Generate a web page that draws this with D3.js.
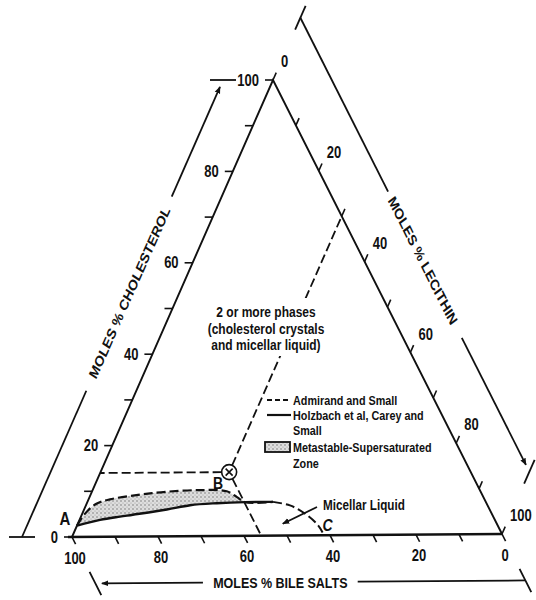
<!DOCTYPE html>
<html>
<head>
<meta charset="utf-8">
<script src="https://cdn.jsdelivr.net/npm/d3@7"></script>
<style>
  body { margin: 0; background: #fff; }
  text { font-family: "Liberation Sans", Arial, sans-serif; fill: #111; }
</style>
</head>
<body>
<div id="chart"></div>
<script>
// all values are moles %, points are [cholesterol, lecithin]; bile salts = 100 - both
const majorTicks = [0, 20, 40, 60, 80, 100];
const minorTicks = [0, 10, 20, 30, 40, 50, 60, 70, 80, 90, 100];
const admirandLine = [[2.5, 0], [5, 0.6], [7.2, 2.2], [8.2, 5], [9.2, 11.5], [9.8, 17.5], [10.1, 25], [9.8, 31.4], [8.5, 34.4], [7.4, 36.8], [7.4, 43.3]];
const admirandToC = [[7.4, 43.3], [6.6, 47.6], [4.8, 51.9], [2.2, 56.2], [0.6, 58]];
const holzbachLine = [[2.5, 0], [3.7, 4.8], [4.4, 9.1], [4.8, 11.9], [5.9, 19.3], [6.8, 24.3], [7.2, 30.3], [7.4, 36.8], [7.4, 43.3]];
const metastableEnd = 36.8; // lecithin % where the two limits meet
const pointX = [14, 30];
const micellarTarget = [2.6, 47.8];
const phaseText = ["2 or more phases", "(cholesterol crystals", "and micellar liquid)"];

const width = 536, height = 600;
const SY = 1.23; // the scan is stretched vertically, text too

const svg = d3.select("#chart").append("svg")
    .attr("width", width)
    .attr("height", height);

const defs = svg.append("defs");
const pat = defs.append("pattern")
    .attr("id", "stipple")
    .attr("patternUnits", "userSpaceOnUse")
    .attr("width", 4).attr("height", 4);
pat.append("rect").attr("width", 4).attr("height", 4).attr("fill", "#dedede");
pat.append("circle").attr("cx", 1).attr("cy", 1).attr("r", 0.8).attr("fill", "#7a7a7a");
pat.append("circle").attr("cx", 3).attr("cy", 3).attr("r", 0.6).attr("fill", "#9a9a9a");

defs.append("marker")
    .attr("id", "arrow")
    .attr("viewBox", "0 0 10 10")
    .attr("refX", 9).attr("refY", 5)
    .attr("markerWidth", 4).attr("markerHeight", 4)
    .attr("orient", "auto")
    .append("path").attr("d", "M0,1L10,5L0,9Z").attr("fill", "#111");

// triangle corners: bile salts (left), cholesterol (top), lecithin (right)
const vB = [72, 537], vC = [273, 80], vL = [502, 534];

const cholScale = d3.scaleLinear().domain([0, 100]).range([vB, vC]);
const lecScale = d3.scaleLinear().domain([0, 100]).range([vC, vL]);
const bileScale = d3.scaleLinear().domain([0, 100]).range([vL, vB]);

function tern(d) {
    const c = d[0], l = d[1], b = 100 - c - l;
    return [(b * vB[0] + c * vC[0] + l * vL[0]) / 100,
            (b * vB[1] + c * vC[1] + l * vL[1]) / 100];
}

function unit(a, b) {
    const dx = b[0] - a[0], dy = b[1] - a[1], n = Math.hypot(dx, dy);
    return [dx / n, dy / n];
}
const isoL = unit(vB, vC); // lines of equal lecithin
const isoB = unit(vC, vL); // lines of equal bile salts

function txt(g, x, y, str, size, anchor, angle, weight) {
    return g.append("text")
        .attr("transform", `translate(${x},${y}) scale(1,${SY}) rotate(${angle || 0})`)
        .attr("dy", "0.35em")
        .attr("text-anchor", anchor || "middle")
        .attr("font-size", size)
        .attr("font-weight", weight || "bold")
        .text(str);
}

const g = svg.append("g");
const line = d3.line().curve(d3.curveCatmullRom);

// shaded metastable zone
const upper = admirandLine.filter(d => d[1] <= metastableEnd);
const lower = holzbachLine.filter(d => d[1] <= metastableEnd).reverse();
g.append("path")
    .attr("d", line(upper.map(tern)) + "L" + line(lower.map(tern)).slice(1) + "Z")
    .attr("fill", "url(#stipple)")
    .attr("stroke", "none");

// triangle
g.append("path")
    .attr("d", d3.line()([vB, vC, vL]))
    .attr("fill", "none").attr("stroke", "#111").attr("stroke-width", 1.9);
g.append("line")
    .attr("x1", vB[0] - 4).attr("y1", vB[1]).attr("x2", vL[0]).attr("y2", vL[1])
    .attr("stroke", "#111").attr("stroke-width", 2.6);

// ticks
minorTicks.forEach(v => {
    const p = cholScale(v);
    g.append("line").attr("x1", p[0]).attr("y1", p[1]).attr("x2", p[0] - 8).attr("y2", p[1])
        .attr("stroke", "#111").attr("stroke-width", 1.6);
    const q = lecScale(v);
    g.append("line").attr("x1", q[0]).attr("y1", q[1])
        .attr("x2", q[0] + isoL[0] * 8).attr("y2", q[1] + isoL[1] * 8)
        .attr("stroke", "#111").attr("stroke-width", 1.6);
    const r = bileScale(v);
    g.append("line").attr("x1", r[0]).attr("y1", r[1])
        .attr("x2", r[0] + isoB[0] * 8).attr("y2", r[1] + isoB[1] * 8)
        .attr("stroke", "#111").attr("stroke-width", 1.6);
});
majorTicks.forEach(v => {
    const p = cholScale(v);
    txt(g, p[0] - 14, p[1], v, 13, "end");
    const q = lecScale(v);
    txt(g, q[0] + isoL[0] * 20, q[1] + isoL[1] * 20, v, 13, "start");
    const r = bileScale(v);
    txt(g, r[0] + 3, r[1] + 21, v, 13);
});

// outer axis lines with arrows and end caps
function outerAxis(a, b, gap, capDir, title, angle, tc) {
    const at = t => [a[0] + (b[0] - a[0]) * t, a[1] + (b[1] - a[1]) * t];
    g.append("path").attr("d", d3.line()([at(0), at(gap[0])]))
        .attr("stroke", "#111").attr("stroke-width", 1.8).attr("fill", "none");
    g.append("path").attr("d", d3.line()([at(gap[1]), at(0.985)]))
        .attr("stroke", "#111").attr("stroke-width", 1.8).attr("fill", "none")
        .attr("marker-end", "url(#arrow)");
    [a, b].forEach(p => {
        g.append("line")
            .attr("x1", p[0] - capDir[0] * 13).attr("y1", p[1] - capDir[1] * 13)
            .attr("x2", p[0] + capDir[0] * 13).attr("y2", p[1] + capDir[1] * 13)
            .attr("stroke", "#111").attr("stroke-width", 1.8);
    });
    const c = at(tc);
    txt(g, c[0], c[1], title, 12.5, "middle", angle);
}
outerAxis([vB[0] - 50, vB[1]], [vC[0] - 50, vC[1]], [0.32, 0.745], [1, 0],
    "MOLES % CHOLESTEROL", -61.6, 0.535);
outerAxis([vC[0] + isoL[0] * 68, vC[1] + isoL[1] * 68], [vL[0] + isoL[0] * 68, vL[1] + isoL[1] * 68],
    [0.383, 0.705], isoL, "MOLES % LECITHIN", 58.2, 0.535);
outerAxis([vL[0] + isoB[0] * 52, vL[1] + isoB[1] * 52], [vB[0] + isoB[0] * 52, vB[1] + isoB[1] * 52],
    [0.39, 0.75], isoB, "MOLES % BILE SALTS", 0, 0.57);

// limits
g.append("path").attr("d", line(holzbachLine.map(tern)))
    .attr("fill", "none").attr("stroke", "#111").attr("stroke-width", 2.4);
g.append("path").attr("d", line(admirandLine.map(tern)))
    .attr("fill", "none").attr("stroke", "#111").attr("stroke-width", 2.2)
    .attr("stroke-dasharray", "9,4");
g.append("path").attr("d", line(admirandToC.map(tern)))
    .attr("fill", "none").attr("stroke", "#111").attr("stroke-width", 2)
    .attr("stroke-dasharray", "9,4");

// point X and its guide lines
const px = tern(pointX);
const rX = 7.5;
[[pointX[0], 0], [100 - pointX[1], pointX[1]], [0, 100 - (100 - pointX[0] - pointX[1])]].forEach(d => {
    const e = tern(d), u = unit(px, e);
    g.append("line")
        .attr("x1", px[0] + u[0] * rX).attr("y1", px[1] + u[1] * rX)
        .attr("x2", e[0]).attr("y2", e[1])
        .attr("stroke", "#111").attr("stroke-width", 1.8).attr("stroke-dasharray", "9,4");
});
g.append("circle").attr("cx", px[0]).attr("cy", px[1]).attr("r", rX)
    .attr("fill", "#fff").attr("stroke", "#111").attr("stroke-width", 1.6);
g.append("path")
    .attr("d", `M${px[0] - 3.5},${px[1] - 3.5}L${px[0] + 3.5},${px[1] + 3.5}M${px[0] + 3.5},${px[1] - 3.5}L${px[0] - 3.5},${px[1] + 3.5}`)
    .attr("stroke", "#111").attr("stroke-width", 1.6);

// point letters
const pA = tern(admirandLine[0]);
txt(g, pA[0] - 12, pA[1] - 7, "A", 15);
txt(g, px[0] - 11, px[1] + 11, "B", 14);
const pCc = tern(admirandToC[admirandToC.length - 1]);
txt(g, pCc[0] + 5, pCc[1] - 8, "C", 14).attr("font-style", "italic");

// micellar liquid label
const mt = tern(micellarTarget);
g.append("line")
    .attr("x1", 317).attr("y1", 507).attr("x2", mt[0]).attr("y2", mt[1])
    .attr("stroke", "#111").attr("stroke-width", 1.8).attr("marker-end", "url(#arrow)");
txt(g, 323, 505, "Micellar Liquid", 11.7, "start");

// phase region text, on a white patch that breaks the dashed line
g.append("rect").attr("x", 204).attr("y", 298).attr("width", 122).attr("height", 58).attr("fill", "#fff");
phaseText.forEach((s, i) => txt(g, 266, 312 + i * 16.5, s, 12));

// legend
const lg = g.append("g");
lg.append("line").attr("x1", 267).attr("y1", 400).attr("x2", 291).attr("y2", 400)
    .attr("stroke", "#111").attr("stroke-width", 2).attr("stroke-dasharray", "5,3");
txt(lg, 293, 400, "Admirand and Small", 10.8, "start");
lg.append("line").attr("x1", 267).attr("y1", 415).attr("x2", 291).attr("y2", 415)
    .attr("stroke", "#111").attr("stroke-width", 2.2);
txt(lg, 293, 415, "Holzbach et al, Carey and", 10.8, "start");
txt(lg, 293, 430, "Small", 10.8, "start");
lg.append("rect").attr("x", 265).attr("y", 442).attr("width", 25).attr("height", 10)
    .attr("fill", "url(#stipple)").attr("stroke", "#111").attr("stroke-width", 1.8);
txt(lg, 293, 447, "Metastable-Supersaturated", 10.8, "start");
txt(lg, 293, 463, "Zone", 10.8, "start");
</script>
</body>
</html>
